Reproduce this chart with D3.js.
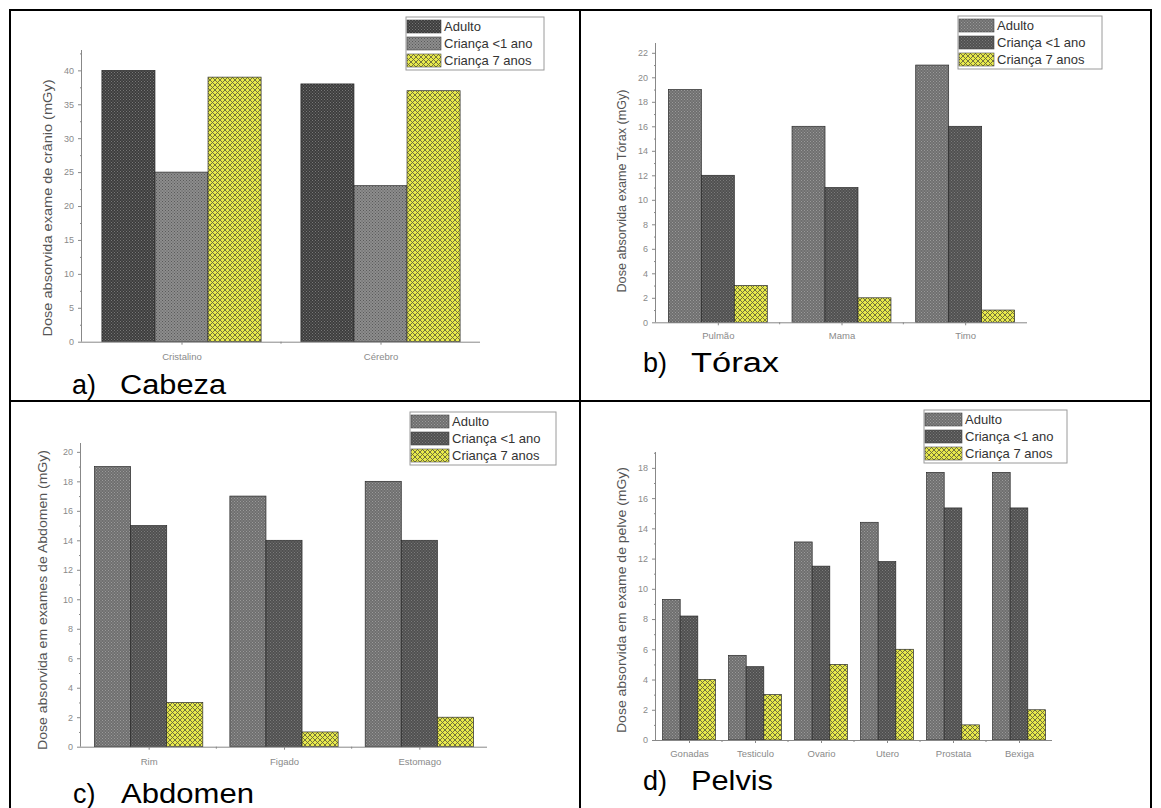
<!DOCTYPE html>
<html>
<head>
<meta charset="utf-8">
<script src="https://cdn.jsdelivr.net/npm/d3@7"></script>
<style>
  body { margin: 0; background: #fff; }
  text { font-family: Arial, "Liberation Sans", sans-serif; }
</style>
</head>
<body>
<div id="chart"></div>
<script>
/*********************************************************/
// Data

const seriesNames = ["Adulto", "Criança <1 ano", "Criança 7 anos"];

// a) Cabeza
const cabezaCats = ["Cristalino", "Cérebro"];
const cabezaAdulto = [40, 38];
const cabezaMenor1 = [25, 23];
const cabezaSete = [39, 37];
const cabezaTicks = [0, 5, 10, 15, 20, 25, 30, 35, 40];

// b) Tórax
const toraxCats = ["Pulmão", "Mama", "Timo"];
const toraxAdulto = [19, 16, 21];
const toraxMenor1 = [12, 11, 16];
const toraxSete = [3, 2, 1];
const toraxTicks = [0, 2, 4, 6, 8, 10, 12, 14, 16, 18, 20, 22];

// c) Abdomen
const abdomenCats = ["Rim", "Figado", "Estomago"];
const abdomenAdulto = [19, 17, 18];
const abdomenMenor1 = [15, 14, 14];
const abdomenSete = [3, 1, 2];
const abdomenTicks = [0, 2, 4, 6, 8, 10, 12, 14, 16, 18, 20];

// d) Pelvis
const pelvisCats = ["Gonadas", "Testiculo", "Ovario", "Utero", "Prostata", "Bexiga"];
const pelvisAdulto = [9.3, 5.6, 13.1, 14.4, 17.7, 17.7];
const pelvisMenor1 = [8.2, 4.85, 11.5, 11.8, 15.35, 15.35];
const pelvisSete = [4, 3, 5, 6, 1, 2];
const pelvisTicks = [0, 2, 4, 6, 8, 10, 12, 14, 16, 18];

/*********************************************************/

const svgWidth = 1161;
const svgHeight = 808;

const svg = d3
  .select("#chart")
  .append("svg")
  .attr("width", svgWidth)
  .attr("height", svgHeight);

const defs = svg.append("defs");

// dotted fill: base colour with a fine grid of dots
function dotPattern(id, base, dot, step) {
  const p = defs.append("pattern")
    .attr("id", id)
    .attr("patternUnits", "userSpaceOnUse")
    .attr("width", step)
    .attr("height", step);
  p.append("rect").attr("width", step).attr("height", step).attr("fill", base);
  p.append("rect").attr("x", 0).attr("y", 0).attr("width", 1).attr("height", 1).attr("fill", dot);
  p.append("rect").attr("x", step / 2).attr("y", step / 2).attr("width", 1).attr("height", 1).attr("fill", dot);
}

// crossed diagonal lines (diamond check)
function checkPattern(id, base, line, step) {
  const p = defs.append("pattern")
    .attr("id", id)
    .attr("patternUnits", "userSpaceOnUse")
    .attr("width", step)
    .attr("height", step);
  p.append("rect").attr("width", step).attr("height", step).attr("fill", base);
  p.append("path")
    .attr("d", `M0,0L${step},${step}M${step},0L0,${step}`)
    .attr("stroke", line)
    .attr("stroke-width", 0.9);
}

dotPattern("adultA", "#3d3d3d", "#777", 3);
dotPattern("menorA", "#8d8d8d", "#5a5a5a", 3);
dotPattern("adultB", "#6f6f6f", "#9a9a9a", 3);
dotPattern("menorB", "#505050", "#7a7a7a", 3);
checkPattern("sete", "#e8ea4a", "#66663c", 5);

/******************** Table borders **********************/
const borders = [
  [9, 10, 1152, 10],
  [10, 9, 10, 808],
  [580, 9, 580, 808],
  [9, 401, 1152, 401],
  [1151, 9, 1151, 808]
];
svg.selectAll(".border")
  .data(borders)
  .enter()
  .append("line")
  .attr("x1", d => d[0]).attr("y1", d => d[1])
  .attr("x2", d => d[2]).attr("y2", d => d[3])
  .attr("stroke", "#000")
  .attr("stroke-width", 2);

/******************** Panels **********************/
function drawPanel(cfg) {
  const g = svg.append("g");

  const y = d3.scaleLinear()
    .domain([0, cfg.yMax])
    .range([cfg.y0, cfg.yTop]);

  const x = d3.scaleBand()
    .domain(cfg.cats)
    .range([cfg.x0, cfg.x1])
    .paddingInner(0)
    .paddingOuter(0);

  const xc = d3.scalePoint()
    .domain(cfg.cats)
    .range([cfg.x0, cfg.x1])
    .padding(0.5);

  const xs = d3.scaleBand()
    .domain(seriesNames)
    .range([x.bandwidth() * 0.1, x.bandwidth() * 0.9]);

  const fills = [cfg.fillAdult, cfg.fillMenor, "url(#sete)"];

  // bars
  const rows = [];
  cfg.cats.forEach((c, i) => {
    cfg.values.forEach((vals, s) => {
      rows.push({ cat: c, s: s, v: vals[i] });
    });
  });

  g.selectAll(".bar")
    .data(rows)
    .enter()
    .append("rect")
    .attr("x", d => x(d.cat) + xs(seriesNames[d.s]))
    .attr("y", d => y(d.v))
    .attr("width", xs.bandwidth())
    .attr("height", d => cfg.y0 - y(d.v))
    .attr("fill", d => fills[d.s])
    .attr("stroke", "#2a2a2a")
    .attr("stroke-width", 0.7);

  // y axis
  const leftAxis = d3.axisLeft(y)
    .tickValues(cfg.ticks)
    .tickSize(4)
    .tickPadding(4);
  const ya = g.append("g")
    .attr("transform", `translate(${cfg.x0},0)`)
    .call(leftAxis);
  ya.select(".domain").attr("d", `M-0.5,${cfg.yTop}V${cfg.y0}`);

  const minor = [];
  for (let i = 0; i < cfg.ticks.length; i++) {
    const a = cfg.ticks[i];
    const b = i + 1 < cfg.ticks.length ? cfg.ticks[i + 1] : a + (cfg.ticks[1] - cfg.ticks[0]);
    if ((a + b) / 2 <= cfg.yMax) minor.push((a + b) / 2);
  }
  g.append("g")
    .attr("transform", `translate(${cfg.x0},0)`)
    .call(d3.axisLeft(y).tickValues(minor).tickSize(2).tickFormat(""))
    .select(".domain").remove();

  // x axis
  const xa = g.append("g")
    .attr("transform", `translate(0,${cfg.y0})`)
    .call(d3.axisBottom(xc).tickSize(3).tickPadding(cfg.catPad));
  xa.select(".domain").attr("d", `M${cfg.x0},0.5H${cfg.x1}`);
  xa.selectAll(".tick text").classed("cat", true);

  g.selectAll(".xminor")
    .data(cfg.cats.slice(1))
    .enter()
    .append("line")
    .attr("x1", d => x(d)).attr("x2", d => x(d))
    .attr("y1", cfg.y0).attr("y2", cfg.y0 + 2)
    .attr("stroke", "#888");

  g.selectAll(".domain, .tick line").attr("stroke", "#888");
  g.selectAll(".tick text")
    .attr("fill", "#8a8a8a")
    .attr("font-size", "9px")
    .attr("font-family", "Arial, 'Liberation Sans', sans-serif");
  g.selectAll(".tick text.cat").attr("font-size", "9.5px");

  // y label
  g.append("text")
    .attr("transform", `translate(${cfg.labX},${cfg.labY}) rotate(-90)`)
    .attr("text-anchor", "middle")
    .attr("font-size", "12px")
    .attr("fill", "#555")
    .attr("textLength", cfg.labW)
    .attr("lengthAdjust", "spacingAndGlyphs")
    .text(cfg.yLabel);

  // legend
  const lg = g.append("g").attr("transform", `translate(${cfg.legX},${cfg.legY})`);
  lg.append("rect")
    .attr("width", cfg.legW)
    .attr("height", 53)
    .attr("fill", "#fff")
    .attr("stroke", "#9a9a9a")
    .attr("stroke-width", 1);
  seriesNames.forEach((name, i) => {
    lg.append("rect")
      .attr("x", 1)
      .attr("y", 3 + i * 17)
      .attr("width", cfg.swW)
      .attr("height", 13)
      .attr("fill", fills[i])
      .attr("stroke", "#444")
      .attr("stroke-width", 0.6);
    lg.append("text")
      .attr("x", cfg.swW + 4)
      .attr("y", 14 + i * 17)
      .attr("font-size", "13px")
      .attr("fill", "#333")
      .text(name);
  });

  // caption
  g.append("text")
    .attr("x", cfg.capX)
    .attr("y", cfg.capY)
    .attr("font-size", "27px")
    .attr("fill", "#000")
    .text(cfg.capLetter);
  g.append("text")
    .attr("x", cfg.capX + 48)
    .attr("y", cfg.capY)
    .attr("font-size", "27px")
    .attr("fill", "#000")
    .attr("textLength", cfg.capW)
    .attr("lengthAdjust", "spacingAndGlyphs")
    .text(cfg.capWord);
}

drawPanel({
  cats: cabezaCats, values: [cabezaAdulto, cabezaMenor1, cabezaSete], ticks: cabezaTicks,
  yMax: 43, x0: 82, x1: 480, y0: 341.7, yTop: 50, catPad: 9,
  fillAdult: "url(#adultA)", fillMenor: "url(#menorA)",
  yLabel: "Dose absorvida exame de crânio (mGy)", labX: 52, labY: 208, labW: 257,
  legX: 406, legY: 17, legW: 138, swW: 34,
  capLetter: "a)", capWord: "Cabeza", capX: 72, capY: 394, capW: 106
});

drawPanel({
  cats: toraxCats, values: [toraxAdulto, toraxMenor1, toraxSete], ticks: toraxTicks,
  yMax: 22.8, x0: 656, x1: 1027, y0: 322.3, yTop: 43, catPad: 7,
  fillAdult: "url(#adultB)", fillMenor: "url(#menorB)",
  yLabel: "Dose absorvida exame Tórax (mGy)", labX: 626, labY: 191, labW: 203,
  legX: 958, legY: 16, legW: 144, swW: 35,
  capLetter: "b)", capWord: "Tórax", capX: 643, capY: 372, capW: 88
});

drawPanel({
  cats: abdomenCats, values: [abdomenAdulto, abdomenMenor1, abdomenSete], ticks: abdomenTicks,
  yMax: 20.6, x0: 81, x1: 487, y0: 746.7, yTop: 443, catPad: 9,
  fillAdult: "url(#adultB)", fillMenor: "url(#menorB)",
  yLabel: "Dose absorvida em exames de Abdomen (mGy)", labX: 47, labY: 600, labW: 300,
  legX: 410, legY: 412, legW: 146, swW: 38,
  capLetter: "c)", capWord: "Abdomen", capX: 73, capY: 803, capW: 133
});

drawPanel({
  cats: pelvisCats, values: [pelvisAdulto, pelvisMenor1, pelvisSete], ticks: pelvisTicks,
  yMax: 19.05, x0: 656, x1: 1052, y0: 740, yTop: 452, catPad: 7,
  fillAdult: "url(#adultB)", fillMenor: "url(#menorB)",
  yLabel: "Dose absorvida em exame de pelve (mGy)", labX: 626, labY: 600, labW: 266,
  legX: 924, legY: 410, legW: 143, swW: 37,
  capLetter: "d)", capWord: "Pelvis", capX: 643, capY: 790, capW: 82
});
</script>
</body>
</html>
